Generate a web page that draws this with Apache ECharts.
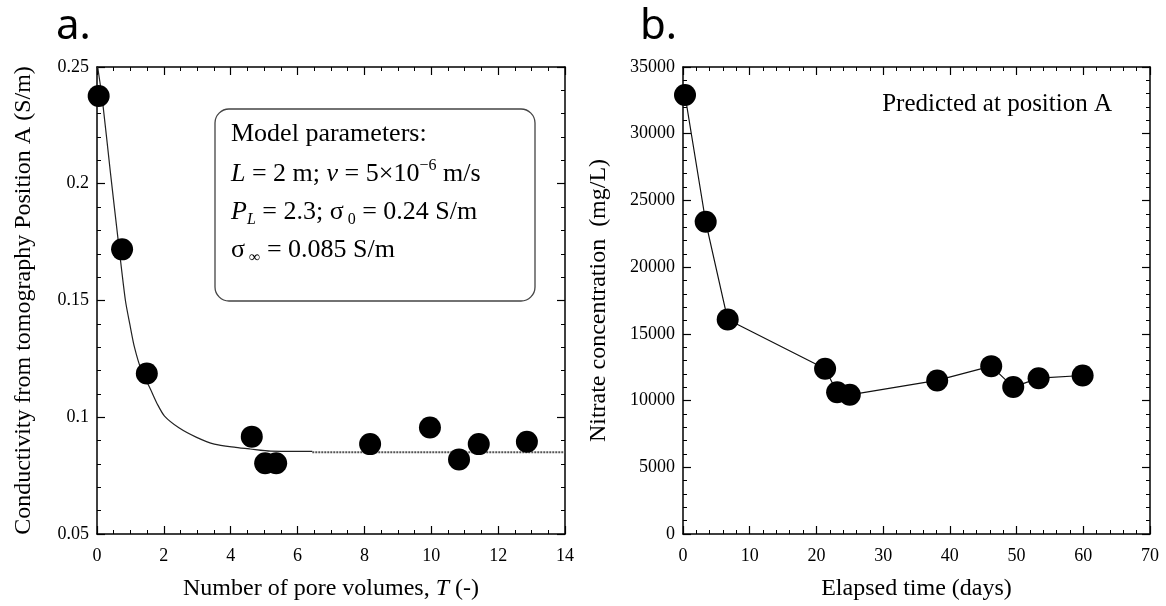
<!DOCTYPE html>
<html>
<head>
<meta charset="utf-8">
<script src="https://cdn.jsdelivr.net/npm/echarts@6/dist/echarts.min.js"></script>
<style>
html,body{margin:0;padding:0;background:#fff;}
#c{width:1166px;height:606px;}
</style>
</head>
<body>
<div id="c"></div>
<script>
// ---- Panel a: conductivity vs pore volumes ----
var poreVolumes = [0.05, 0.75, 1.49, 4.63, 5.03, 5.36, 8.17, 9.96, 10.83, 11.42, 12.86];
var conductivity = [0.2376, 0.1719, 0.1187, 0.0917, 0.0803, 0.0803, 0.0885, 0.0956, 0.0819, 0.0885, 0.0895];
// model curve
var modelT = [0.02, 0.16, 0.4, 0.64, 0.85, 0.98, 1.12, 1.33, 1.6, 1.81, 2.02, 2.45, 2.98, 3.51, 4.15, 4.58, 5.2, 6.44];
var modelSigma = [0.25, 0.236, 0.205, 0.175, 0.15, 0.14, 0.13, 0.12, 0.112, 0.1055, 0.1005, 0.0955, 0.0914, 0.0885, 0.0871, 0.0864, 0.0855, 0.0854];
var tailT = [6.44, 14];
var tailSigma = [0.085, 0.085];

// ---- Panel b: nitrate vs elapsed time ----
var elapsedDays = [0.3, 3.4, 6.7, 21.3, 23.1, 25.0, 38.1, 46.2, 49.5, 53.3, 59.9];
var nitrate = [32900, 23400, 16070, 12380, 10630, 10430, 11510, 12580, 11010, 11680, 11880];

function pairs(xs, ys){ return xs.map(function(x,i){ return [x, ys[i]]; }); }

var serif = '"Liberation Serif", "DejaVu Serif", serif';
var black = '#000';
function plain(v){ return String(v); }

function mkX(gi, min, max, interval, minorSplit, pos, showLabel, name, nameRich){
  return {
    type:'value', gridIndex:gi, min:min, max:max, interval:interval, position:pos,
    axisLine:{show:true, onZero:false, lineStyle:{color:black, width:1.5}},
    axisTick:{show:true, inside:true, length:8, lineStyle:{color:black, width:1.2}},
    minorTick:{show:true, splitNumber:minorSplit, length:4, lineStyle:{color:black, width:1}},
    splitLine:{show:false},
    axisLabel:{show:showLabel, color:black, fontFamily:serif, fontSize:18, margin:13, formatter:plain},
    name: name || '', nameLocation:'middle', nameGap:43,
    nameTextStyle:{color:black, fontFamily:serif, fontSize:24, rich: nameRich || {}}
  };
}
function mkY(gi, min, max, interval, minorSplit, pos, showLabel, name, gap){
  return {
    type:'value', gridIndex:gi, min:min, max:max, interval:interval, position:pos,
    axisLine:{show:true, onZero:false, lineStyle:{color:black, width:1.5}},
    axisTick:{show:true, inside:true, length:8, lineStyle:{color:black, width:1.2}},
    minorTick:{show:true, splitNumber:minorSplit, length:4, lineStyle:{color:black, width:1}},
    splitLine:{show:false},
    axisLabel:{show:showLabel, color:black, fontFamily:serif, fontSize:18, margin:8, formatter:plain},
    name: name || '', nameLocation:'middle', nameGap:gap || 60,
    nameTextStyle:{color:black, fontFamily:serif, fontSize:24}
  };
}

var italicRich = { i:{fontStyle:'italic', fontFamily:serif, fontSize:24, color:black} };

var option = {
  animation:false,
  backgroundColor:'#fff',
  grid:[
    {left:97, top:67, width:468, height:468},
    {left:683, top:67, width:467, height:468}
  ],
  xAxis:[
    mkX(0, 0, 14, 2, 4, 'bottom', true, 'Number of pore volumes, {i|T} (-)', italicRich),
    mkX(0, 0, 14, 2, 4, 'top', false),
    mkX(1, 0, 70, 10, 5, 'bottom', true, 'Elapsed time (days)'),
    mkX(1, 0, 70, 10, 5, 'top', false)
  ],
  yAxis:[
    mkY(0, 0.05, 0.25, 0.05, 5, 'left', true, 'Conductivity from tomography Position A (S/m)', 61),
    mkY(0, 0.05, 0.25, 0.05, 5, 'right', false),
    mkY(1, 0, 35000, 5000, 5, 'left', true, 'Nitrate concentration  (mg/L)', 72),
    mkY(1, 0, 35000, 5000, 5, 'right', false)
  ],
  series:[
    {type:'line', xAxisIndex:0, yAxisIndex:0, data:pairs(modelT, modelSigma), showSymbol:false, symbol:'none',
     lineStyle:{color:'#222', width:1.2}, smooth:0.25, z:2},
    {type:'line', xAxisIndex:0, yAxisIndex:0, data:pairs(tailT, tailSigma), showSymbol:false, symbol:'none',
     lineStyle:{color:'#555', width:2, type:[2,1]}, z:2},
    {type:'scatter', xAxisIndex:0, yAxisIndex:0, data:pairs(poreVolumes, conductivity), symbol:'circle', symbolSize:22,
     itemStyle:{color:black, opacity:1}, z:3},
    {type:'line', xAxisIndex:2, yAxisIndex:2, data:pairs(elapsedDays, nitrate), symbol:'circle', symbolSize:22,
     showAllSymbol:true, lineStyle:{color:'#111', width:1.2}, itemStyle:{color:black, opacity:1}, z:3}
  ],
  graphic:[
    {type:'text', left:56, top:6, style:{text:'a.', font:'42px "Noto Sans", "DejaVu Sans", sans-serif', fill:black}},
    {type:'text', left:640, top:6, style:{text:'b.', font:'42px "Noto Sans", "DejaVu Sans", sans-serif', fill:black}},
    {type:'rect', shape:{x:215, y:109, width:320, height:192, r:14}, style:{fill:'#fff', stroke:'#444', lineWidth:1.3}, z:10},
    {type:'text', x:231, y:134, z:11, style:{text:'Model parameters:', font:'26px ' + serif, fill:black, verticalAlign:'middle'}},
    {type:'text', x:231, y:174, z:11, style:{
      text:'{i|L} = 2 m; {i|v} = 5×10{sup|−6} m/s', verticalAlign:'middle',
      fontFamily:serif, fontSize:26, fill:black, lineHeight:32,
      rich:{ i:{fontStyle:'italic', fontFamily:serif, fontSize:26, lineHeight:32},
             sup:{fontFamily:serif, fontSize:16, lineHeight:16, verticalAlign:'top'} }
    }},
    {type:'text', x:231, y:212, z:11, style:{
      text:'{i|P}{subi|L} = 2.3; σ{sub| 0} = 0.24 S/m', verticalAlign:'middle',
      fontFamily:serif, fontSize:26, fill:black, lineHeight:32,
      rich:{ i:{fontStyle:'italic', fontFamily:serif, fontSize:26, lineHeight:32},
             subi:{fontStyle:'italic', fontFamily:serif, fontSize:16, lineHeight:16, verticalAlign:'bottom'},
             sub:{fontFamily:serif, fontSize:16, lineHeight:16, verticalAlign:'bottom'} }
    }},
    {type:'text', x:231, y:250, z:11, style:{
      text:'σ{sub| ∞} = 0.085 S/m', verticalAlign:'middle',
      fontFamily:serif, fontSize:26, fill:black, lineHeight:32,
      rich:{ sub:{fontFamily:serif, fontSize:16, lineHeight:16, verticalAlign:'bottom'} }
    }},
    {type:'text', right:54, top:92, style:{text:'Predicted at position A', font:'25px ' + serif, fill:black}}
  ]
};

var chart = echarts.init(document.getElementById('c'), null, {renderer:'canvas'});
chart.setOption(option);
</script>
</body>
</html>
